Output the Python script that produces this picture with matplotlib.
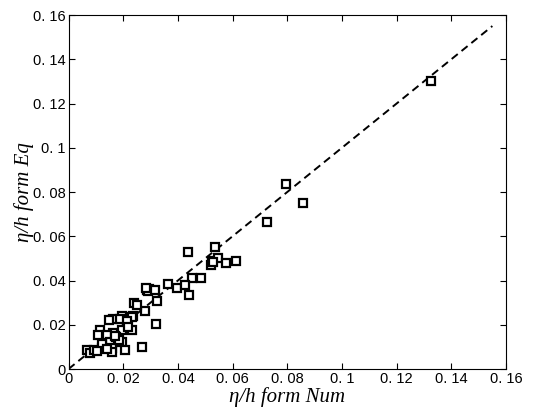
import matplotlib

matplotlib.use("Agg")
import matplotlib.pyplot as plt
from matplotlib.ticker import FuncFormatter, MultipleLocator

# eta/h from numerical model vs from equation
eta_num = [
    0.1326, 0.0796, 0.0858, 0.0726, 0.0437, 0.0536, 0.0525, 0.0547, 0.0576,
    0.0613, 0.0521, 0.0529, 0.0452, 0.0485, 0.0364, 0.0397, 0.0426, 0.0441,
    0.0287, 0.0294, 0.0291, 0.0316, 0.0324, 0.0280, 0.0320, 0.0269, 0.0240,
    0.0251, 0.0236, 0.0196, 0.0232, 0.0163, 0.0188, 0.0214, 0.0148, 0.0232,
    0.0196, 0.0218, 0.0163, 0.0115, 0.0108, 0.0141, 0.0152, 0.0196, 0.0207,
    0.0159, 0.0123, 0.0067, 0.0079, 0.0093, 0.0159, 0.0174, 0.0185, 0.0123,
    0.0104, 0.0285, 0.0140, 0.0170,
]
eta_eq = [
    0.1302, 0.0836, 0.0750, 0.0665, 0.0529, 0.0552, 0.0488, 0.0502, 0.0479,
    0.0488, 0.0470, 0.0484, 0.0411, 0.0411, 0.0384, 0.0366, 0.0380, 0.0335,
    0.0357, 0.0362, 0.0353, 0.0357, 0.0307, 0.0262, 0.0203, 0.0099, 0.0298,
    0.0289, 0.0240, 0.0240, 0.0235, 0.0226, 0.0226, 0.0217, 0.0222, 0.0176,
    0.0176, 0.0190, 0.0163, 0.0176, 0.0154, 0.0154, 0.0122, 0.0122, 0.0086,
    0.0095, 0.0095, 0.0086, 0.0072, 0.0086, 0.0077, 0.0145, 0.0131, 0.0113,
    0.0081, 0.0366, 0.0090, 0.0150,
]
line_end = 0.155


def fmt(v, pos):
    if abs(v) < 1e-12:
        return "0"
    return f"{v:g}".replace(".", ". ")


fig = plt.figure(figsize=(5.37, 4.19), dpi=100)
ax = fig.add_axes([0.1276, 0.1193, 0.8147, 0.8449])

ax.plot([0, line_end], [0, line_end], color="black", linestyle="--",
        linewidth=1.4, dashes=(4, 2.5))
ax.plot(eta_num, eta_eq, linestyle="none", marker="s", markersize=6,
        markerfacecolor="white", markeredgecolor="black", markeredgewidth=1.6)

ax.set_xlim(0, 0.16)
ax.set_ylim(0, 0.16)
ax.xaxis.set_major_locator(MultipleLocator(0.02))
ax.yaxis.set_major_locator(MultipleLocator(0.02))
ax.xaxis.set_major_formatter(FuncFormatter(fmt))
ax.yaxis.set_major_formatter(FuncFormatter(fmt))
ax.tick_params(direction="in", top=True, right=True, length=4, width=0.8,
               labelsize=10.5, pad=2)
for lab in ax.get_xticklabels() + ax.get_yticklabels():
    lab.set_fontfamily("Liberation Sans")
for sp in ax.spines.values():
    sp.set_linewidth(0.8)

ax.set_xlabel("η/h form Num", fontsize=15, family="Liberation Serif",
              style="italic", labelpad=1)
ax.set_ylabel("η/h form Eq", fontsize=15, family="Liberation Serif",
              style="italic")
ax.yaxis.set_label_coords(-0.079, 0.5)

fig.savefig("out.png", dpi=100)
